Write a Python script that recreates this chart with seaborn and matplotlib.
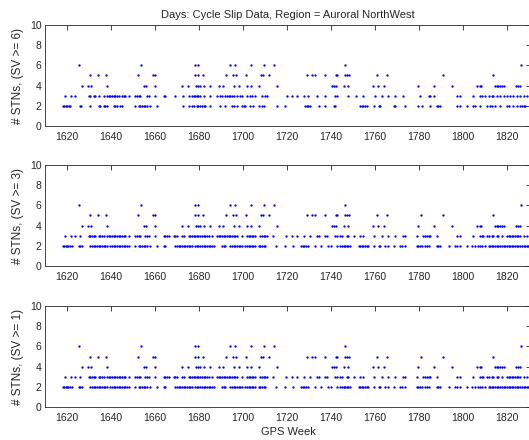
import matplotlib
matplotlib.use("Agg")
import matplotlib.pyplot as plt
import numpy as np
import pandas as pd
import seaborn as sns

# ---------------------------------------------------------------------------
# Daily cycle-slip station counts, Auroral NorthWest region.
# Each list holds the (fractional) GPS weeks on which the given number of
# stations reported cycle slips for the stated satellite threshold.
# ---------------------------------------------------------------------------

# SV >= 6
sv6_n6 = [1625.4, 1653.7, 1678.2, 1679.5, 1694.3, 1696.6, 1703.5, 1709.5,
          1714.0, 1746.3, 1826.6]
sv6_n5 = [1630.4, 1634.0, 1637.9, 1652.5, 1659.1, 1660.2, 1678.2, 1679.4,
          1682.0, 1692.2, 1695.6, 1696.8, 1701.4, 1708.4, 1709.2, 1711.9,
          1729.0, 1731.5, 1733.0, 1737.5, 1742.2, 1743.0, 1746.5, 1747.3,
          1748.3, 1760.8, 1765.7, 1790.8, 1813.9]
sv6_n4 = [1626.7, 1629.6, 1630.9, 1638.1, 1655.0, 1656.1, 1660.2, 1672.1,
          1675.2, 1678.5, 1679.5, 1680.5, 1682.3, 1684.9, 1689.0, 1691.0,
          1695.8, 1698.3, 1702.0, 1703.5, 1707.5, 1715.3, 1740.5, 1741.5,
          1742.2, 1745.8, 1747.7, 1759.0, 1761.3, 1764.3, 1779.5, 1787.0,
          1795.2, 1806.4, 1807.9, 1808.4, 1814.7, 1815.5, 1816.2, 1817.0,
          1817.7, 1818.5, 1824.3, 1825.3, 1826.1]
sv6_n3 = [1619.2, 1621.8, 1623.8, 1629.8, 1630.6, 1632.1, 1632.9, 1634.4,
          1636.7, 1638.2, 1639.0, 1639.7, 1640.5, 1641.2, 1642.0, 1642.7,
          1643.5, 1645.0, 1645.8, 1646.5, 1648.0, 1651.1, 1651.8, 1652.6,
          1653.3, 1656.4, 1657.1, 1660.2, 1663.9, 1664.7, 1669.2, 1672.7,
          1675.3, 1676.8, 1677.6, 1678.3, 1679.1, 1679.8, 1680.6, 1682.1,
          1685.2, 1688.2, 1689.7, 1690.5, 1692.0, 1692.7, 1693.5, 1694.2,
          1695.0, 1695.8, 1697.3, 1698.8, 1699.5, 1701.8, 1703.3, 1704.1,
          1705.6, 1708.6, 1710.2, 1710.9, 1720.0, 1722.3, 1724.5, 1727.6,
          1729.8, 1733.6, 1737.4, 1742.0, 1742.7, 1748.0, 1751.5, 1754.5,
          1760.1, 1763.2, 1766.2, 1769.2, 1773.0, 1780.6, 1784.4, 1785.2,
          1786.7, 1797.3, 1798.8, 1804.8, 1807.9, 1808.6, 1810.2, 1811.7,
          1813.2, 1813.9, 1815.5, 1817.0, 1818.5, 1820.0, 1821.5, 1823.0,
          1824.5, 1826.1, 1827.6, 1829.1]
sv6_n2 = [1618.2, 1618.8, 1619.4, 1620.0, 1620.8, 1621.5, 1625.8, 1626.4,
          1630.6, 1634.4, 1635.2, 1636.7, 1637.4, 1638.2, 1641.2, 1642.0,
          1642.7, 1644.2, 1645.0, 1651.1, 1652.6, 1653.3, 1654.1, 1654.8,
          1655.6, 1656.4, 1657.9, 1660.9, 1672.7, 1675.3, 1676.8, 1677.6,
          1679.1, 1679.8, 1680.6, 1681.4, 1682.1, 1682.9, 1685.2, 1689.7,
          1692.0, 1695.0, 1695.8, 1697.3, 1699.5, 1700.3, 1701.1, 1703.3,
          1704.8, 1707.1, 1708.6, 1709.4, 1715.5, 1719.2, 1728.3, 1729.1,
          1729.8, 1730.6, 1734.4, 1737.4, 1741.2, 1742.0, 1753.3, 1754.1,
          1754.8, 1755.6, 1756.4, 1759.4, 1761.7, 1762.4, 1768.5, 1769.2,
          1773.8, 1779.8, 1781.4, 1785.2, 1788.2, 1788.9, 1789.7, 1797.3,
          1798.8, 1801.8, 1804.8, 1805.6, 1807.9, 1810.9, 1812.4, 1813.2,
          1814.7, 1817.0, 1820.0, 1820.8, 1823.0, 1824.5, 1826.1, 1826.8,
          1827.6, 1828.3]

# SV >= 3 (the SV >= 1 counts are the same on every day)
sv3_n6 = list(sv6_n6)
sv3_n5 = sorted(sv6_n5 + [1781.0])
sv3_n4 = list(sv6_n4)
sv3_n3 = [1619.2, 1621.8, 1623.8, 1626.1, 1629.8, 1630.6, 1631.4, 1632.1,
          1632.9, 1634.4, 1635.2, 1635.9, 1636.7, 1638.2, 1639.0, 1639.7,
          1640.5, 1641.2, 1642.0, 1642.7, 1643.5, 1644.2, 1645.0, 1645.8,
          1646.5, 1648.0, 1651.1, 1651.8, 1652.6, 1653.3, 1655.6, 1656.4,
          1657.1, 1660.2, 1663.9, 1664.7, 1665.5, 1666.2, 1668.5, 1669.2,
          1670.0, 1672.3, 1673.0, 1675.3, 1676.1, 1676.8, 1677.6, 1678.3,
          1679.1, 1679.8, 1680.6, 1681.4, 1682.1, 1682.9, 1683.6, 1684.4,
          1685.9, 1688.2, 1689.0, 1689.7, 1690.5, 1691.2, 1692.0, 1692.7,
          1693.5, 1694.2, 1695.0, 1695.8, 1696.5, 1697.3, 1699.5, 1701.8,
          1702.6, 1703.3, 1704.1, 1704.8, 1705.6, 1707.9, 1708.6, 1709.4,
          1710.2, 1710.9, 1713.9, 1719.7, 1722.3, 1724.5, 1727.6, 1730.6,
          1733.6, 1734.4, 1737.4, 1738.2, 1742.0, 1742.7, 1744.2, 1745.0,
          1747.3, 1748.0, 1750.3, 1753.3, 1754.8, 1759.4, 1763.2, 1766.2,
          1769.2, 1773.0, 1773.8, 1779.1, 1782.1, 1782.9, 1783.6, 1784.4,
          1785.2, 1788.2, 1797.3, 1798.8, 1804.8, 1807.9, 1808.6, 1809.4,
          1810.9, 1811.7, 1813.2, 1813.9, 1815.5, 1816.2, 1817.7, 1820.0,
          1820.8, 1821.5, 1822.3, 1823.0, 1823.8, 1824.5, 1825.3, 1826.1,
          1827.6, 1829.1]
sv3_n2 = [1618.2, 1618.8, 1619.4, 1620.0, 1620.6, 1621.5, 1622.3, 1625.3,
          1626.1, 1626.8, 1630.6, 1631.4, 1632.1, 1632.9, 1633.6, 1634.4,
          1635.2, 1635.9, 1636.7, 1637.4, 1638.2, 1639.7, 1640.5, 1641.2,
          1642.0, 1642.7, 1643.5, 1644.2, 1645.0, 1645.8, 1646.5, 1647.3,
          1648.0, 1651.1, 1652.6, 1653.3, 1654.1, 1654.8, 1655.6, 1656.4,
          1657.9, 1660.9, 1663.9, 1664.7, 1669.2, 1670.0, 1670.8, 1671.5,
          1672.3, 1673.0, 1673.8, 1674.5, 1675.3, 1676.1, 1676.8, 1678.3,
          1679.1, 1679.8, 1680.6, 1681.4, 1682.1, 1682.9, 1683.6, 1684.4,
          1685.2, 1685.9, 1686.7, 1690.5, 1691.2, 1692.0, 1694.2, 1695.0,
          1695.8, 1696.5, 1697.3, 1698.0, 1698.8, 1699.5, 1701.1, 1701.8,
          1702.6, 1703.3, 1704.1, 1704.8, 1705.6, 1707.1, 1707.9, 1708.6,
          1709.4, 1710.2, 1715.2, 1719.0, 1722.7, 1726.5, 1727.3, 1728.0,
          1728.8, 1729.5, 1732.6, 1735.6, 1738.6, 1740.2, 1742.7, 1744.2,
          1745.0, 1745.8, 1746.5, 1747.3, 1748.0, 1748.8, 1752.6, 1753.3,
          1754.1, 1754.8, 1755.6, 1756.4, 1757.1, 1759.4, 1761.7, 1762.4,
          1764.7, 1766.2, 1768.5, 1771.5, 1772.3, 1773.8, 1779.1, 1779.8,
          1780.6, 1781.4, 1782.9, 1783.6, 1784.4, 1788.2, 1788.9, 1789.7,
          1793.5, 1796.5, 1797.3, 1798.8, 1801.8, 1804.1, 1805.6, 1807.1,
          1807.9, 1808.6, 1810.2, 1811.7, 1812.4, 1813.2, 1813.9, 1814.7,
          1815.5, 1816.2, 1817.0, 1817.7, 1818.5, 1819.2, 1820.0, 1820.8,
          1821.5, 1822.3, 1823.0, 1823.8, 1824.5, 1825.3, 1826.1, 1826.8,
          1827.6, 1828.3, 1829.1, 1829.8]

sv1_n6, sv1_n5, sv1_n4 = list(sv3_n6), list(sv3_n5), list(sv3_n4)
sv1_n3, sv1_n2 = list(sv3_n3), list(sv3_n2)

panel_labels = ["# STNs, (SV >= 6)", "# STNs, (SV >= 3)", "# STNs, (SV >= 1)"]
panel_series = [
    {2: sv6_n2, 3: sv6_n3, 4: sv6_n4, 5: sv6_n5, 6: sv6_n6},
    {2: sv3_n2, 3: sv3_n3, 4: sv3_n4, 5: sv3_n5, 6: sv3_n6},
    {2: sv1_n2, 3: sv1_n3, 4: sv1_n4, 5: sv1_n5, 6: sv1_n6},
]
x_ticks = list(range(1620, 1821, 20))
y_ticks = list(range(0, 11, 2))
title = "Days: Cycle Slip Data, Region = Auroral NorthWest"


def to_frame(series):
    rows = [(w, n) for n, weeks in series.items() for w in weeks]
    return pd.DataFrame(rows, columns=["week", "stations"])


sns.set_style("white")
plt.rcParams["font.family"] = ["Liberation Sans", "DejaVu Sans"]

W, H = 529, 440
fig = plt.figure(figsize=(W / 100, H / 100), dpi=100)

left_px, right_px = 45, 531
axes_px = [(25, 126), (165, 266), (306, 407)]   # (top, bottom) of each panel
ink = "#262626"

for i, ((top, bottom), label, series) in enumerate(zip(axes_px, panel_labels, panel_series)):
    ax = fig.add_axes([left_px / W, 1 - bottom / H,
                       (right_px - left_px) / W, (bottom - top) / H])
    sns.scatterplot(data=to_frame(series), x="week", y="stations", ax=ax,
                    color="#0000ff", s=2.8, linewidth=0, marker="o",
                    legend=False)
    ax.set_xlim(1610, 1831)
    ax.set_ylim(0, 10)
    ax.set_xticks(x_ticks)
    ax.set_yticks(y_ticks)
    ax.tick_params(axis="both", direction="in", length=3.5, width=0.6,
                   top=True, right=True, colors=ink, labelcolor=ink,
                   labelsize=7.5)
    ax.tick_params(axis="x", pad=4.5)
    ax.tick_params(axis="y", pad=2.5)
    for sp in ax.spines.values():
        sp.set_linewidth(0.6)
        sp.set_color(ink)
    ax.set_ylabel(label, fontsize=8.5, color=ink, labelpad=4)
    if i == len(axes_px) - 1:
        ax.set_xlabel("GPS Week", fontsize=8, color=ink, labelpad=3)
    else:
        ax.set_xlabel("")
    if i == 0:
        ax.set_title(title, fontsize=8, color=ink, pad=5)

fig.savefig("out.png", dpi=100)
